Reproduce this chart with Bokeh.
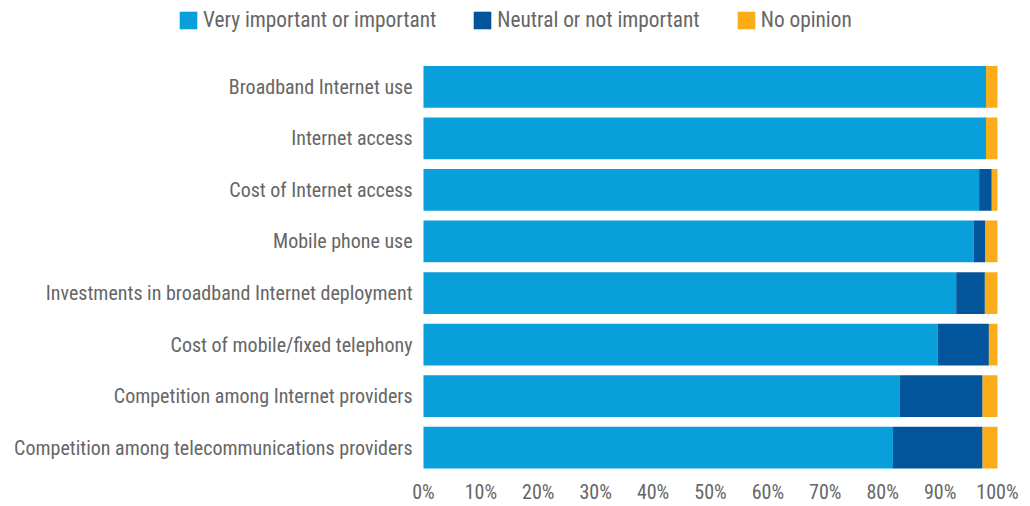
from bokeh.plotting import figure
from bokeh.models import ColumnDataSource, Range1d, FixedTicker, Legend, LegendItem
from bokeh.core.properties import value
from bokeh.embed import file_html
from bokeh.resources import INLINE

categories = [
    "Broadband Internet use",
    "Internet access",
    "Cost of Internet access",
    "Mobile phone use",
    "Investments in broadband Internet deployment",
    "Cost of mobile/fixed telephony",
    "Competition among Internet providers",
    "Competition among telecommunications providers",
]
important = [97.9, 97.9, 96.8, 95.9, 92.8, 89.6, 83.0, 81.8]
neutral = [0.1, 0.1, 2.2, 2.0, 5.0, 8.9, 14.4, 15.6]
no_opinion = [2.0, 2.0, 1.0, 2.1, 2.2, 1.5, 2.6, 2.6]
series = ["Very important or important", "Neutral or not important", "No opinion"]
ticks = [0, 10, 20, 30, 40, 50, 60, 70, 80, 90, 100]
tick_labels = ["0%", "10%", "20%", "30%", "40%", "50%", "60%", "70%", "80%", "90%", "100%"]

colors = ["#089FDB", "#02549B", "#FAAD19"]
FONT = "Roboto Condensed"
TXT = "#666666"

n = len(categories)
ypos = [n - 1 - i for i in range(n)]  # first category at top
source = ColumnDataSource(dict(cat=categories, y=ypos, imp=important, neu=neutral, no=no_opinion,
                               lx=[-1.9] * n))

p = figure(
    width=1030, height=506,
    x_range=Range1d(-73.69, 105.75),
    y_range=Range1d(-0.519, 8.673),
    y_axis_location=None,
    output_backend="svg", toolbar_location=None,
    min_border_left=0, min_border_right=0, min_border_top=0, min_border_bottom=29,
)
rs = p.hbar_stack(["imp", "neu", "no"], y="y", height=0.81, color=colors, line_color=None, source=source)

# category labels (left of the bars)
p.text(x="lx", y="y", text="cat", source=source, text_align="right", text_baseline="middle",
       text_font=value(FONT), text_font_size="20px", text_color=TXT)

p.xgrid.visible = False
p.ygrid.visible = False
p.outline_line_color = None

p.xaxis.ticker = FixedTicker(ticks=ticks)
p.xaxis.major_label_overrides = {t: l for t, l in zip(ticks, tick_labels)}
p.xaxis.axis_line_color = None
p.xaxis.major_tick_line_color = None
p.xaxis.minor_tick_line_color = None
p.xaxis.major_tick_out = 0
p.xaxis.major_tick_in = 0
p.xaxis.major_label_text_font = FONT
p.xaxis.major_label_text_font_size = "20px"
p.xaxis.major_label_text_color = TXT
p.xaxis.major_label_standoff = 5

legend = Legend(
    items=[LegendItem(label=s, renderers=[r]) for s, r in zip(series, rs)],
    orientation="horizontal",
    location=(177, 442),
    background_fill_alpha=0, border_line_color=None,
    padding=0, margin=0, spacing=35,
    glyph_width=22, glyph_height=22, label_standoff=4,
    label_text_font=FONT, label_text_font_size="21.3px", label_text_color=TXT,
)
p.add_layout(legend, "center")

open("out.html", "w").write(file_html(p, INLINE))
